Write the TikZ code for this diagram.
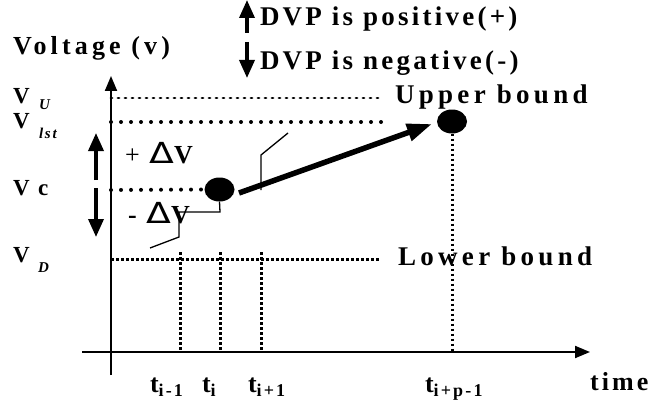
\documentclass[tikz,border=0pt]{standalone}
\usepackage{fontspec}
\setmainfont{Liberation Serif}
\newfontfamily\ls[LetterSpace=12]{Liberation Serif}
\newfontfamily\lsw[LetterSpace=16]{Liberation Serif}
\newfontfamily\djv{DejaVu Sans}
\usetikzlibrary{arrows.meta,shapes.geometric}
\newcommand{\fsz}[1]{\fontsize{#1}{#1}\selectfont}
\newcommand{\bigdelta}{\scalebox{1.25}[1]{\djv\mdseries\fsz{29}Δ}}
\tikzset{
  lbl/.style={anchor=base west, inner sep=0pt, outer sep=0pt, font=\ls\bfseries},
  wlbl/.style={anchor=base west, inner sep=0pt, outer sep=0pt, font=\lsw\bfseries},
  axis/.style={line width=2pt, -{Triangle[length=15pt,width=12pt]}},
  bigarrow/.style={line width=3.5pt, -{Triangle[length=18pt,width=15pt]}},
  thickarrow/.style={line width=5.5pt, -{Triangle[length=25pt,width=17pt]}},
  dotbig/.style={line width=4pt, line cap=round, dash pattern=on 0pt off 10pt},
  dotsmall/.style={line width=2.8pt, line cap=round, dash pattern=on 1pt off 6pt},
  dotdense/.style={line width=3pt, dash pattern=on 2.5pt off 2.5pt},
  blob/.style={ellipse, fill, inner sep=0pt, minimum width=30pt, minimum height=24pt},
  callout/.style={line width=1.3pt},
}
\begin{document}
\begin{tikzpicture}[x=1pt,y=-1pt]
\useasboundingbox (0,0) rectangle (652,409);
% axes
\coordinate (yb) at (111,375);
\coordinate (yt) at (111,76);
\coordinate (xl) at (82,352);
\coordinate (xr) at (590,352);
\draw[axis] (yb) -- (yt);
\draw[axis] (xl) -- (xr);
% dots
\node[blob] (d1) at (219.5,189.5) {};
\node[blob] (d2) at (452,121.5) {};
% horizontal dotted lines
\coordinate (u0) at (111,98);  \coordinate (u1) at (380,98);
\coordinate (l0) at (111,122); \coordinate (l1) at (384,122);
\coordinate (c0) at (111,190);
\coordinate (v0) at (111,259); \coordinate (v1) at (380,259);
\draw[dotsmall] (u0) -- (u1);
\draw[dotbig] (l0) -- (l1);
\draw[dotbig] (c0) -- (d1.west);
\draw[dotdense] (v0) -- (v1);
% vertical dotted lines
\coordinate (t1a) at (180,252); \coordinate (t1b) at (180,352);
\coordinate (t2a) at (220,252); \coordinate (t2b) at (220,352);
\coordinate (t3a) at (261,252); \coordinate (t3b) at (261,352);
\coordinate (t4b) at (452,352);
\draw[dotdense] (t1a) -- (t1b);
\draw[dotdense] (t2a) -- (t2b);
\draw[dotdense] (t3a) -- (t3b);
\draw[dotdense] (d2.south) -- (t4b);
% thick arrow
\coordinate (as) at (239,193);
\coordinate (ae) at (432,124);
\draw[thickarrow] (as) -- (ae);
% callouts
\coordinate (ca) at (288,133);
\coordinate (cb) at (261,155);
\coordinate (cc) at (261,190);
\draw[callout] (ca) -- (cb) -- (cc);
\coordinate (cd) at (220,212);
\coordinate (ce) at (179,212);
\coordinate (cf) at (179,237);
\coordinate (cg) at (150,248);
\draw[callout] (d1.south) -- (cd) -- (ce) -- (cf) -- (cg);
% left arrows
\coordinate (pa) at (96,180); \coordinate (pb) at (96,133);
\coordinate (na) at (96,188); \coordinate (nb) at (96,237);
\draw[bigarrow] (pa) -- (pb);
\draw[bigarrow] (na) -- (nb);
% DVP arrows
\coordinate (qa) at (247,33); \coordinate (qb) at (247,0);
\coordinate (ra) at (247,42); \coordinate (rb) at (247,78);
\draw[bigarrow] (qa) -- (qb);
\draw[bigarrow] (ra) -- (rb);
% texts
\node[lbl] (dvpp) at (260,26) {\fsz{27}DVP is positive(+)};
\node[lbl] (dvpn) at (260,70) {\fsz{27}DVP is negative(-)};
\node[wlbl] (volt) at (13,55) {\fsz{26}Voltage (v)};
\node[lbl] (vu) at (13,103) {\fsz{23}V};
\node[lbl] (vus) at (39,110) {\fsz{15}\itshape U};
\node[lbl] (vl) at (13,128) {\fsz{23}V};
\node[lbl] (vls) at (39,138) {\fsz{15}\itshape lst};
\node[lbl] (vc) at (13,195) {\fsz{23}V c};
\node[lbl] (vd) at (13,262) {\fsz{23}V};
\node[lbl] (vds) at (38,272) {\fsz{15}\itshape D};
\node[lbl] (pdv) at (125,163) {\fsz{26}{\mdseries +} \bigdelta V};
\node[lbl] (mdv) at (128,223) {\fsz{26}- \bigdelta V};
\node[wlbl] (ub) at (395,103) {\fsz{27}Upper bound};
\node[wlbl] (lb) at (398,265) {\fsz{27}Lower bound};
\node[lbl] (ti1) at (150,392) {\fsz{26}t\raisebox{-4pt}{\fsz{18}i-1}};
\node[lbl] (ti) at (202,392) {\fsz{26}t\raisebox{-4pt}{\fsz{18}i}};
\node[lbl] (ti2) at (248,392) {\fsz{26}t\raisebox{-4pt}{\fsz{18}i+1}};
\node[lbl] (tip) at (425,392) {\fsz{26}t\raisebox{-4pt}{\fsz{18}i+p-1}};
\node[lbl] (time) at (590,390) {\fsz{26}time};
\end{tikzpicture}
\end{document}
